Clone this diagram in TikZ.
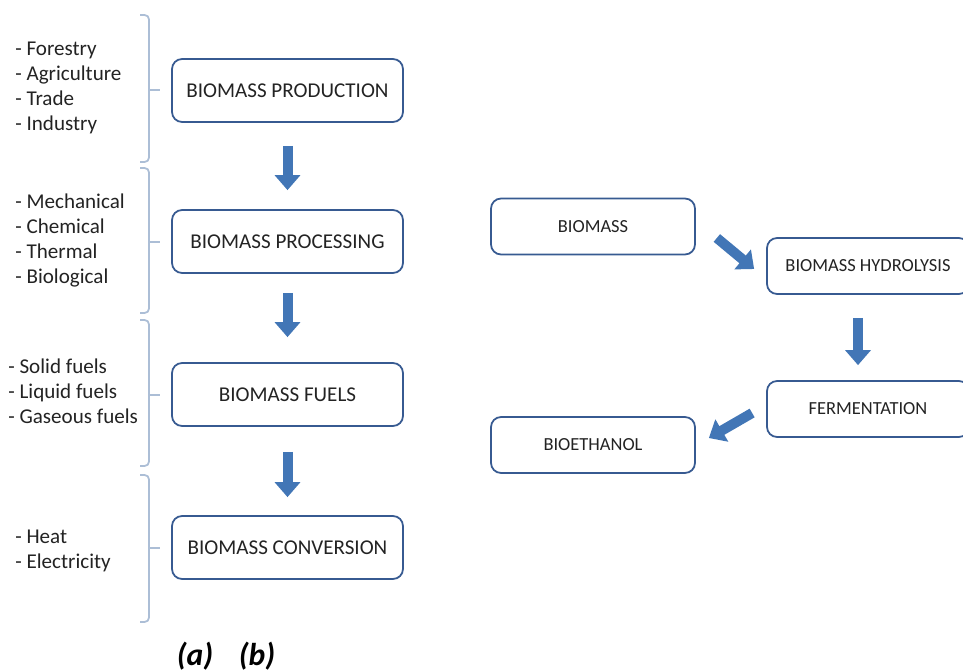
\documentclass[tikz,border=0pt]{standalone}
\usepackage{fontspec}
\setmainfont{Carlito}
\usetikzlibrary{positioning,arrows.meta}
\definecolor{boxblue}{RGB}{55,90,145}
\definecolor{arrowblue}{RGB}{66,118,182}
\definecolor{bracegray}{RGB}{172,190,214}
\definecolor{textgray}{RGB}{35,35,35}

\begin{document}
\begin{tikzpicture}[x=0.02cm, y=-0.02cm,
        stage/.style={draw=boxblue, line width=1pt, rounded corners=0.2cm,
                    minimum width=4.62cm, minimum height=1.26cm,
                    align=center, text=textgray, font=\fontsize{12}{14}\selectfont},
        flow/.style={draw=boxblue, line width=1pt, rounded corners=0.2cm,
                    minimum width=4.08cm, minimum height=1.12cm,
                    align=center, text=textgray, font=\fontsize{10.5}{12}\selectfont},
        items/.style={anchor=west, align=left, inner sep=0pt, text=textgray,
                    font=\fontsize{12}{14.3}\selectfont},
        grp/.style={draw=bracegray, line width=1pt, rounded corners=2.5pt},
        blockarrow/.style={draw=arrowblue, line width=0.2cm,
                    -{Triangle[length=0.3cm, width=0.5cm]}},
        tag/.style={text=black, font=\fontsize{18}{20}\selectfont\bfseries\itshape}
    ]
    \useasboundingbox (0,0) rectangle (963,672);

    % (a) left column -- stages
    \node[stage] (prod) at (287.5,90.5)  {BIOMASS PRODUCTION};
    \node[stage] (proc) at (287.5,241.5) {BIOMASS PROCESSING};
    \node[stage] (fuel) at (287.5,394.5) {BIOMASS FUELS};
    \node[stage] (conv) at (287.5,547.5) {BIOMASS CONVERSION};

    % (a) item lists
    \node[items] (srclist)  at (15,88)    {- Forestry\\- Agriculture\\- Trade\\- Industry};
    \node[items] (proclist) at (15,240.5) {- Mechanical\\- Chemical\\- Thermal\\- Biological};
    \node[items] (fuellist) at (8,391.5)  {- Solid fuels\\- Liquid fuels\\- Gaseous fuels};
    \node[items] (convlist) at (15,550.5) {- Heat\\- Electricity};

    % brackets
    \draw[grp] (140,15)  -| (149,162) -- (140,162);  \draw[grp] (149,90)  -- (160,90);
    \draw[grp] (140,168) -| (149,313) -- (140,313);  \draw[grp] (149,242) -- (160,242);
    \draw[grp] (140,320) -| (149,466) -- (140,466);  \draw[grp] (149,395) -- (160,395);
    \draw[grp] (140,475) -| (149,622) -- (140,622);  \draw[grp] (149,548) -- (160,548);

    % (a) arrows
    \draw[blockarrow, shorten <=0.46cm, shorten >=0.38cm] (prod) -- (proc);
    \draw[blockarrow, shorten <=0.38cm, shorten >=0.5cm]  (proc) -- (fuel);
    \draw[blockarrow, shorten <=0.5cm,  shorten >=0.36cm] (fuel) -- (conv);

    % (b) ethanol route
    \node[flow] (bio)  at (593,226.5) {BIOMASS};
    \node[flow, minimum width=4.04cm] (hyd)  at (868,266) {BIOMASS HYDROLYSIS};
    \node[flow, minimum width=4.04cm] (ferm) at (868,409) {FERMENTATION};
    \node[flow] (eth)  at (593,445) {BIOETHANOL};

    \draw[blockarrow] ([xshift=0.42cm, yshift=-0.23cm]bio.east) -- ([xshift=-0.24cm, yshift=-0.06cm]hyd.west);
    \draw[blockarrow] ([xshift=-0.2cm, yshift=-0.46cm]hyd.south) -- ([xshift=-0.2cm, yshift=0.3cm]ferm.north);
    \draw[blockarrow] ([xshift=-0.28cm, yshift=-0.08cm]ferm.west) -- ([xshift=0.26cm, yshift=0.14cm]eth.east);

    % panel tags
    \node[tag] (taga) at (195,656) {(a)};
    \node[tag] (tagb) at (257,656) {(b)};
\end{tikzpicture}
\end{document}
